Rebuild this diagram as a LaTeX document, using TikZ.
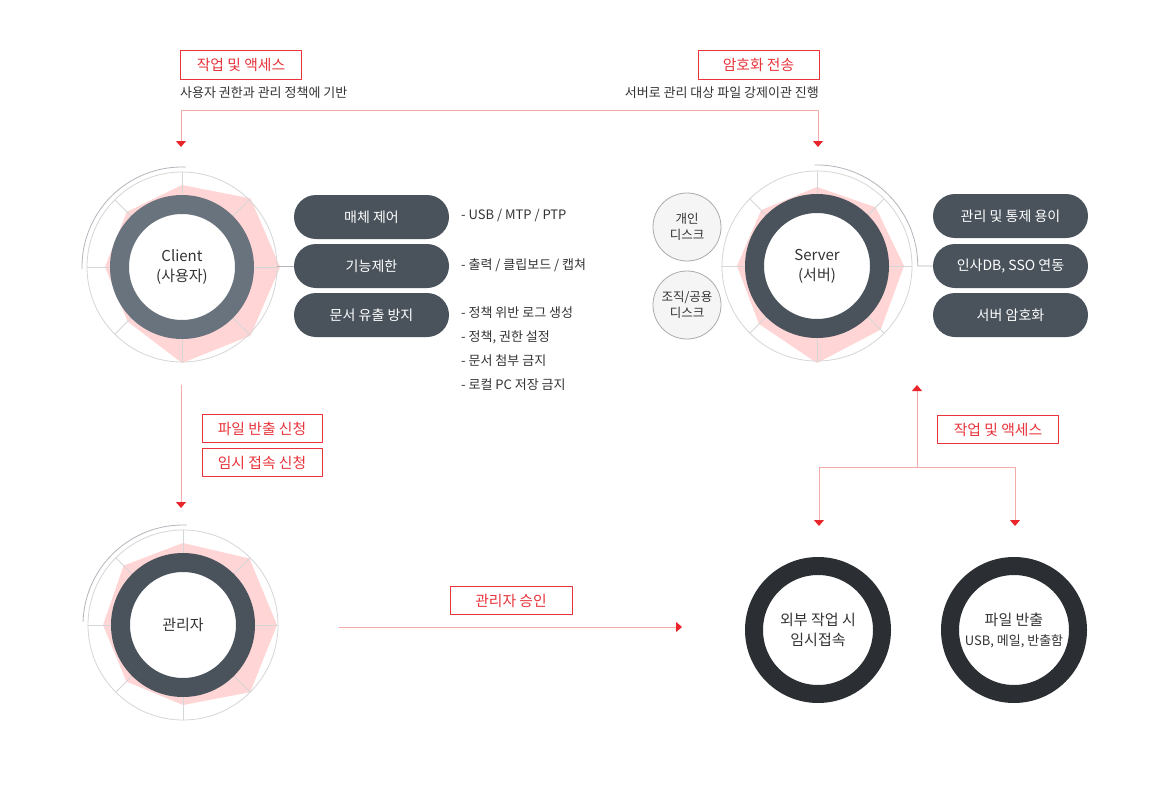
\documentclass[tikz,border=0pt]{standalone}
\usepackage{fontspec}
\setmainfont{Noto Sans CJK KR}
\usetikzlibrary{arrows.meta}
\definecolor{boxred}{HTML}{E8333A}
\definecolor{tipred}{HTML}{E8262C}
\definecolor{linkpink}{HTML}{F5AAAA}
\definecolor{pillgray}{HTML}{4A535C}
\definecolor{clientring}{HTML}{68737E}
\definecolor{blackring}{HTML}{2B2F34}
\definecolor{radarpink}{HTML}{FFD5D5}
\definecolor{gridgray}{HTML}{D6D6D6}
\definecolor{halogray}{HTML}{B0B6BC}
\definecolor{textgray}{HTML}{333333}
\tikzset{
	redbox/.style={draw=boxred,line width=1pt,text=boxred,minimum width=121pt,minimum height=28.5pt,inner sep=0pt,font=\fontsize{14.8}{16}\selectfont},
	note/.style={inner sep=0pt,text=textgray,font=\fontsize{13}{15}\selectfont},
	pill/.style={fill=pillgray,rounded corners=22pt,minimum width=155pt,minimum height=44pt,inner sep=0pt,text=white,font=\fontsize{14}{16}\selectfont},
	ring/.style={circle,draw=pillgray,fill=white,line width=19pt,minimum size=125pt,inner sep=0pt,align=center,text=textgray,font=\fontsize{15}{20}\selectfont},
	disk/.style={circle,draw=gridgray!80!black,fill=gray!8,line width=0.8pt,minimum size=68pt,inner sep=0pt,align=center,text=textgray,font=\fontsize{12.5}{16}\selectfont},
	link/.style={draw=linkpink,line width=1pt},
	grid/.style={draw=gridgray,line width=0.8pt},
	halo/.style={draw=halogray,line width=0.8pt},
}
\begin{document}
\begin{tikzpicture}[line cap=round,line join=round,>={Triangle[width=10pt,length=6pt,color=tipred]},x=1pt,y=-1pt]
				\useasboundingbox[fill=white] (0,0) rectangle (1170,787);
				\coordinate (cl) at (182,267);
				\coordinate (srv) at (817,266);
				\coordinate (adm) at (183,625);
				% radar backgrounds
				\begin{scope}[shift={(cl)}]
					\fill[radarpink] (90:82pt) -- (45:97pt) -- (0:98pt) -- (-45:97pt) -- (-90:96pt) -- (-135:77pt) -- (180:77pt) -- (135:78pt) -- cycle;
					\draw[grid] (0,0) circle (95pt);
					\foreach \a in {0,45,...,315} \draw[grid] (\a:70pt) -- (\a:95pt);
					\draw[halo] (88:100pt) arc[start angle=88,end angle=181,radius=100pt];
				\end{scope}
				\begin{scope}[shift={(srv)}]
					\fill[radarpink] (90:79pt) -- (45:83pt) -- (0:87pt) -- (-45:90pt) -- (-90:97pt) -- (-135:82pt) -- (180:80pt) -- (135:79pt) -- cycle;
					\draw[grid] (0,0) circle (95pt);
					\foreach \a in {0,45,...,315} \draw[grid] (\a:70pt) -- (\a:95pt);
				\end{scope}
				\begin{scope}[shift={(adm)}]
					\fill[radarpink] (90:82pt) -- (45:94pt) -- (0:94pt) -- (-45:95pt) -- (-90:80pt) -- (-135:80pt) -- (180:80pt) -- (135:84pt) -- cycle;
					\draw[grid] (0,0) circle (95pt);
					\foreach \a in {0,45,...,315} \draw[grid] (\a:70pt) -- (\a:95pt);
					\draw[halo] (88:100pt) arc[start angle=88,end angle=178,radius=100pt];
				\end{scope}
				% rings
				\node[ring,draw=clientring] (client) at (cl) {Client\\(사용자)};
				\node[ring] (server) at (srv) {Server\\(서버)};
				\node[ring] (admin) at (adm) {관리자};
				\node[ring,draw=blackring,line width=18pt,minimum size=128pt] (temp) at (818,630) {외부 작업 시\\임시접속};
				\node[ring,draw=blackring,line width=18pt,minimum size=128pt] (export) at (1014,630) {파일 반출\\{\fontsize{13}{16}\selectfont USB, 메일, 반출함}};
				\node[disk] (own) at (687,227) {개인\\디스크};
				\node[disk] (shared) at (687,305) {조직/공용\\디스크};
				% client functions
				\node[pill] (media) at (371.5,217) {매체 제어};
				\node[pill] (func) at (371.5,266) {기능제한};
				\node[pill] (leak) at (371.5,315) {문서 유출 방지};
				\node[note,anchor=west] (medianote) at (461,216) {- USB / MTP / PTP};
				\node[note,anchor=west] (funcnote) at (461,265.5) {- 출력 / 클립보드 / 캡쳐};
				\node[note,anchor=west] (leaknote1) at (461,313) {- 정책 위반 로그 생성};
				\node[note,anchor=west] (leaknote2) at (461,337) {- 정책, 권한 설정};
				\node[note,anchor=west] (leaknote3) at (461,361) {- 문서 첨부 금지};
				\node[note,anchor=west] (leaknote4) at (461,385) {- 로컬 PC 저장 금지};
				\coordinate (cledge) at (277,266);
				\draw[halo] (cledge) -- (func.west);
				% server functions
				\node[pill] (ctrl) at (1010.5,216) {관리 및 통제 용이};
				\node[pill] (sso) at (1010.5,266) {인사DB, SSO 연동};
				\node[pill] (crypt) at (1010.5,315) {서버 암호화};
				\coordinate (srvarc) at (815,165);
				\draw[halo] (srvarc) arc[start angle=91,end angle=0,radius=101pt] -- (sso.west);
				% top flow
				\node[redbox] (work) at (241,65) {작업 및 액세스};
				\node[redbox] (enc) at (758.5,65) {암호화 전송};
				\node[note,anchor=west] (worknote) at (180,93) {사용자 권한과 관리 정책에 기반};
				\node[note,anchor=east] (encnote) at (819,93) {서버로 관리 대상 파일 강제이관 진행};
				\coordinate (tl) at (181,110.5);
				\coordinate (tr) at (818,110.5);
				\coordinate (clin) at (181,147);
				\coordinate (srvin) at (818,147);
				\draw[link,<->] (clin) -- (tl) -- (tr) -- (srvin);
				% request flow
				\coordinate (clout) at (181,385);
				\coordinate (admin) at (181,508);
				\draw[link,->] (clout) -- (admin);
				\node[redbox,minimum width=120pt] (fileapp) at (262,428.5) {파일 반출 신청};
				\node[redbox,minimum width=120pt] (tempapp) at (262,462.5) {임시 접속 신청};
				% approval
				\coordinate (admout) at (339,627);
				\coordinate (tmpl) at (682,627);
				\draw[link,->] (admout) -- (tmpl);
				\node[redbox,minimum width=122pt] (approve) at (511,600.5) {관리자 승인};
				% access flow
				\coordinate (fork) at (917,467);
				\coordinate (srvup) at (917,385);
				\coordinate (lhook) at (819,467);
				\coordinate (rhook) at (1015,467);
				\coordinate (tempin) at (819,526);
				\coordinate (expin) at (1015,526);
				\draw[link,->] (fork) -- (srvup);
				\draw[link,<->] (tempin) -- (lhook) -- (rhook) -- (expin);
				\node[redbox] (work2) at (998,429.5) {작업 및 액세스};
			\end{tikzpicture}
\end{document}
